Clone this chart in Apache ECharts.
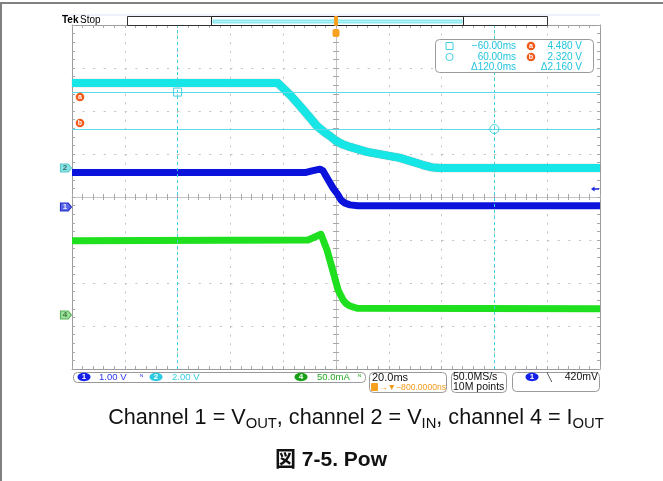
<!DOCTYPE html>
<html>
<head>
<meta charset="utf-8">
<script src="https://cdn.jsdelivr.net/npm/echarts@6/dist/echarts.min.js"></script>
<style>
html, body { margin: 0; padding: 0; background: #fff; }
#main { width: 663px; height: 481px; }
</style>
</head>
<body>
<div id="main"></div>
<script>
// horizontal: time in ms, 20 ms/div, trigger at 0
var timeMin = -100, timeMax = 100, timeStep = 20;
// vertical: screen divisions
var divMin = -4, divMax = 4;

// channel 2 = VIN (V)
var vinTime  = [-100, -22, -17.4, -13.6, -9.8, -7.2, -4.5, -2.3, 0, 2.7, 5.3, 11.7, 24.2, 33.0, 36.4, 39.4, 100];
var vinVolts = [3.95, 3.95, 3.40, 2.88, 2.33, 1.95, 1.68, 1.49, 1.26, 1.09, 0.98, 0.75, 0.47, 0.14, 0.03, 0.0, 0.0];

// channel 1 = VOUT (V)
var voutTime  = [-100, -11.7, -9.1, -6.1, -4.9, -3.8, -1.1, 0.8, 1.9, 3.4, 5.3, 8.3, 100];
var voutVolts = [0.80, 0.80, 0.84, 0.88, 0.84, 0.72, 0.44, 0.28, 0.16, 0.09, 0.05, 0.03, 0.03];

// channel 4 = IOUT (mA)
var ioutTime = [-100, -10.6, -8.0, -5.7, -3.4, -1.1, 0.8, 2.7, 3.8, 5.3, 8.0, 100];
var ioutMa   = [86.4, 87.2, 90.7, 93.8, 75.6, 50.3, 29.1, 17.4, 13.4, 10.5, 7.8, 7.3];

// per-channel units/div and ground position (div)
var vinScale = 2,  vinGround = 0.674;
var voutScale = 1, voutGround = -0.233;
var ioutScale = 50, ioutGround = -2.744;
var triggerLevel = 0.42;

// cursors
var cursorTimes = [-60, 60];
var cursorDivs = [2.44, 1.58];
var readoutTimes = ['\u221260.00ms', '60.00ms', '\u0394120.0ms'];
var readoutVolts = ['4.480 V', '2.320 V', '\u03942.160 V'];

function toDiv(times, vals, scale, ground) {
  return times.map(function (t, i) { return [t, vals[i] / scale + ground]; });
}

var CYAN = '#16e6e6', BLUE = '#0a12dc', GREEN = '#1ee01e', ORANGE = '#f25a1c';
var FONT = '"Liberation Sans", Arial, sans-serif';

var chart = echarts.init(document.getElementById('main'));

function groundMarker(div, label, fill, border, txt) {
  return {
    silent: true,
    symbol: 'path://M0,0 L7,0 L10,4 L7,8 L0,8 Z',
    symbolSize: [11, 8],
    symbolOffset: [-6, 0],
    itemStyle: { color: fill, borderColor: border, borderWidth: 1 },
    label: { show: true, position: 'inside', offset: [-1, 0], formatter: label, color: txt, fontSize: 8, fontFamily: FONT, fontWeight: 'bold' },
    data: [{ coord: [timeMin, div] }]
  };
}

function xAx(extra) {
  return Object.assign({
    type: 'value', min: timeMin, max: timeMax, interval: timeStep,
    axisLabel: { show: false },
    axisLine: { show: false, onZero: false },
    axisTick: { show: true, inside: true, length: 3, lineStyle: { color: '#a8a8a8' } },
    minorTick: { show: true, splitNumber: 5, length: 3, lineStyle: { color: '#a8a8a8' } },
    splitLine: { show: false }
  }, extra);
}
function yAx(extra) {
  return Object.assign({
    type: 'value', min: divMin, max: divMax, interval: 1,
    axisLabel: { show: false },
    axisLine: { show: false, onZero: false },
    axisTick: { show: true, inside: true, length: 3, lineStyle: { color: '#a8a8a8' } },
    minorTick: { show: true, splitNumber: 5, length: 3, lineStyle: { color: '#a8a8a8' } },
    splitLine: { show: false }
  }, extra);
}

function badge(cx, cy, txt, fill) {
  return [
    { type: 'ellipse', shape: { cx: cx, cy: cy, rx: 6.5, ry: 4.2 }, style: { fill: fill }, z: 10 },
    { type: 'text', x: cx, y: cy, style: { text: txt, fill: '#fff', font: 'bold 8px ' + FONT, textAlign: 'center', textVerticalAlign: 'middle' }, z: 11 }
  ];
}
function txt(x, y, s, color, size, align, weight) {
  return { type: 'text', x: x, y: y, z: 11, style: { text: s, fill: color, font: (weight || 'normal') + ' ' + (size || 10) + 'px ' + FONT, textAlign: align || 'left', textVerticalAlign: 'middle' } };
}
function box(x, y, w, h) {
  return { type: 'rect', shape: { x: x, y: y, width: w, height: h, r: 4 }, style: { fill: '#fff', stroke: '#9a9a9a', lineWidth: 1 }, z: 9 };
}
function circ(cx, cy, s) {
  return [
    { type: 'circle', shape: { cx: cx, cy: cy, r: 4.3 }, style: { fill: ORANGE }, z: 10 },
    { type: 'text', x: cx, y: cy, style: { text: s, fill: '#fff', font: 'bold 7px ' + FONT, textAlign: 'center', textVerticalAlign: 'middle' }, z: 11 }
  ];
}

var graphics = [
  // page frame
  { type: 'rect', shape: { x: 0, y: 2, width: 663, height: 2 }, style: { fill: '#808080' } },
  { type: 'rect', shape: { x: 0, y: 2, width: 2, height: 479 }, style: { fill: '#808080' } },
  { type: 'rect', shape: { x: 62, y: 14, width: 538, height: 2 }, style: { fill: '#eef1fa' } },
  // header
  txt(62, 20, 'Tek', '#000', 10, 'left', 'bold'),
  txt(80, 20, 'Stop', '#000', 10),
  { type: 'rect', shape: { x: 127.5, y: 16.5, width: 420, height: 9 }, style: { fill: '#fff', stroke: '#333', lineWidth: 1 }, z: 9 },
  { type: 'rect', shape: { x: 211.5, y: 16.5, width: 252, height: 9 }, style: { fill: '#fff', stroke: '#222', lineWidth: 1 }, z: 9 },
  { type: 'rect', shape: { x: 213, y: 20, width: 249, height: 3 }, style: { fill: '#aef3f6', stroke: '#45d6e4', lineWidth: 0.6 }, z: 10 },
  { type: 'rect', shape: { x: 334, y: 16, width: 4, height: 10, r: 1 }, style: { fill: '#f8a020' }, z: 12 },
  { type: 'rect', shape: { x: 332.5, y: 29, width: 7, height: 8, r: 2 }, style: { fill: '#f8a020' }, z: 12 },
  txt(336, 33, 'T', '#fff', 7, 'center', 'bold'),
  // cursor readout
  box(435.5, 39.5, 158, 33),
  { type: 'rect', shape: { x: 446, y: 42.5, width: 7, height: 7 }, style: { fill: 'none', stroke: '#40d0e0', lineWidth: 1 }, z: 10 },
  { type: 'circle', shape: { cx: 449.5, cy: 57, r: 3.6 }, style: { fill: 'none', stroke: '#40d0e0', lineWidth: 1 }, z: 10 },
  txt(516, 46, readoutTimes[0], '#20c4dc', 10, 'right'),
  txt(516, 57, readoutTimes[1], '#20c4dc', 10, 'right'),
  txt(516, 67.5, readoutTimes[2], '#20c4dc', 10, 'right'),
  txt(582, 46, readoutVolts[0], '#20c4dc', 10, 'right'),
  txt(582, 57, readoutVolts[1], '#20c4dc', 10, 'right'),
  txt(582, 67.5, readoutVolts[2], '#20c4dc', 10, 'right'),
  // status bar
  box(73.5, 372.5, 292, 10),
  box(369.5, 372.5, 77, 20),
  box(451.5, 372.5, 55, 20),
  box(512.5, 372.5, 87, 19),
  txt(99, 377.5, '1.00 V', '#2a36f0', 9.5),
  txt(140, 377.5, '\u1d3a', '#2a36f0', 7),
  txt(172, 377.5, '2.00 V', '#32cde0', 9.5),
  txt(317, 377.5, '50.0mA', '#22a822', 9.5),
  txt(358, 377.5, '\u1d3a', '#22a822', 7),
  txt(372, 377.5, '20.0ms', '#111', 11),
  { type: 'rect', shape: { x: 371, y: 383, width: 7, height: 8, r: 1 }, style: { fill: '#f8a020' }, z: 12 },
  txt(374.5, 387.5, 'T', '#fff', 6, 'center', 'bold'),
  txt(379, 387.5, '\u2192\u25bc\u2212800.0000ns', '#f39a1c', 8.6),
  txt(453, 377.5, '50.0MS/s', '#111', 10.5),
  txt(453, 387.5, '10M points', '#111', 10.5),
  txt(549, 377.5, '\u2572', '#111', 8, 'center'),
  txt(598, 377.5, '420mV', '#111', 10.5, 'right'),
  // caption
  { type: 'text', x: 356, y: 418, style: {
      text: '{n|Channel 1 = V}{s|OUT}{n|, channel 2 = V}{s|IN}{n|, channel 4 = I}{s|OUT}',
      textAlign: 'center', textVerticalAlign: 'middle',
      rich: {
        n: { fontSize: 21.6, fontFamily: FONT, fill: '#111', lineHeight: 27 },
        s: { fontSize: 14.8, fontFamily: FONT, fill: '#111', lineHeight: 15, verticalAlign: 'bottom' }
      } } },
  { type: 'text', x: 331, y: 460, style: { text: '\u56f3 7-5. Pow', fill: '#111', font: 'bold 21px "Liberation Sans", "Noto Sans CJK JP", sans-serif', textAlign: 'center', textVerticalAlign: 'middle' } }
]
  .concat(badge(84, 377, '1', '#1520e8'))
  .concat(badge(156, 377, '2', '#2ccbe0'))
  .concat(badge(301, 377, '4', '#18a018'))
  .concat(badge(532, 377, '1', '#1520e8'))
  .concat(circ(531, 46, 'a'))
  .concat(circ(531, 57, 'b'))
  .concat(circ(80, 97, 'a'))
  .concat(circ(80, 123, 'b'));

chart.setOption({
  animation: false,
  backgroundColor: '#fff',
  grid: { left: 72, top: 25, width: 528, height: 344, show: false },
  xAxis: [
    // graticule centre line with ticks both sides + dotted grid
    xAx({ position: 'bottom', axisLine: { show: true, onZero: true, onZeroAxisIndex: 0, lineStyle: { color: '#c4c4c4' } },
          splitLine: { show: true, lineStyle: { color: '#c2c2c2', type: [2, 6.6] } } }),
    xAx({ position: 'bottom', axisLine: { show: false, onZero: true, onZeroAxisIndex: 0 }, axisTick: { show: true, inside: false, length: 3, lineStyle: { color: '#a8a8a8' } } }),
    xAx({ position: 'top', axisLine: { show: true, onZero: false, lineStyle: { color: '#9c9c9c' } } }),
    xAx({ position: 'bottom', axisLine: { show: true, onZero: false, lineStyle: { color: '#9c9c9c' } } })
  ],
  yAxis: [
    yAx({ position: 'left', axisLine: { show: true, onZero: true, onZeroAxisIndex: 0, lineStyle: { color: '#c4c4c4' } },
          splitLine: { show: true, lineStyle: { color: '#c2c2c2', type: [2, 8.56] } } }),
    yAx({ position: 'left', axisLine: { show: false, onZero: true, onZeroAxisIndex: 0 }, axisTick: { show: true, inside: false, length: 3, lineStyle: { color: '#a8a8a8' } } }),
    yAx({ position: 'left', axisLine: { show: true, onZero: false, lineStyle: { color: '#9c9c9c' } } }),
    yAx({ position: 'right', axisLine: { show: true, onZero: false, lineStyle: { color: '#9c9c9c' } } })
  ],
  series: [
    {
      name: 'cursors', type: 'line', data: [], z: 1, silent: true,
      markLine: {
        silent: true, symbol: 'none', label: { show: false },
        data: [
          { xAxis: cursorTimes[0], lineStyle: { color: '#3ccfe0', type: [3, 3], width: 1 } },
          { xAxis: cursorTimes[1], lineStyle: { color: '#3ccfe0', type: [3, 3], width: 1 } },
          { yAxis: cursorDivs[0], lineStyle: { color: '#5cdce8', type: 'solid', width: 1 } },
          { yAxis: cursorDivs[1], lineStyle: { color: '#5cdce8', type: 'solid', width: 1 } }
        ]
      },
      markPoint: {
        silent: true,
        data: [
          { coord: [cursorTimes[0], cursorDivs[0]], symbol: 'rect', symbolSize: 8, itemStyle: { color: 'rgba(255,255,255,0)', borderColor: '#40d0e0', borderWidth: 1 }, label: { show: false } },
          { coord: [cursorTimes[1], cursorDivs[1]], symbol: 'circle', symbolSize: 9, itemStyle: { color: 'rgba(255,255,255,0)', borderColor: '#40d0e0', borderWidth: 1 }, label: { show: false } }
        ]
      }
    },
    {
      name: 'VIN', type: 'line', z: 3, symbol: 'none',
      data: toDiv(vinTime, vinVolts, vinScale, vinGround),
      lineStyle: { color: CYAN, width: 8, join: 'round', shadowColor: 'rgba(20,110,110,0.7)', shadowBlur: 1 },
      markPoint: groundMarker(vinGround, '2', '#86e4e6', '#5fc8cc', '#3a6a6a')
    },
    {
      name: 'VOUT', type: 'line', z: 4, symbol: 'none',
      data: toDiv(voutTime, voutVolts, voutScale, voutGround),
      lineStyle: { color: BLUE, width: 7, join: 'round' },
      markPoint: {
        silent: true,
        data: [
          { coord: [timeMin, voutGround], symbol: 'path://M0,0 L7,0 L10,4 L7,8 L0,8 Z', symbolSize: [11, 8], symbolOffset: [-6, 0],
            itemStyle: { color: '#5a66e6', borderColor: '#2630c8', borderWidth: 1 },
            label: { show: true, position: 'inside', offset: [-1, 0], formatter: '1', color: '#e8ecff', fontSize: 8, fontWeight: 'bold', fontFamily: FONT } },
          { coord: [timeMax, triggerLevel / voutScale + voutGround], symbol: 'path://M0,3 L4,0 L4,2 L9,2 L9,4 L4,4 L4,6 Z', symbolSize: [8, 5], symbolOffset: [-5, 0],
            itemStyle: { color: '#1a2ae0' }, label: { show: false } }
        ]
      }
    },
    {
      name: 'IOUT', type: 'line', z: 3, symbol: 'none',
      data: toDiv(ioutTime, ioutMa, ioutScale, ioutGround),
      lineStyle: { color: GREEN, width: 7, join: 'round' },
      markPoint: groundMarker(ioutGround, '4', '#9ade9a', '#5cb45c', '#3c7a3c')
    }
  ],
  graphic: graphics
});
</script>
</body>
</html>
